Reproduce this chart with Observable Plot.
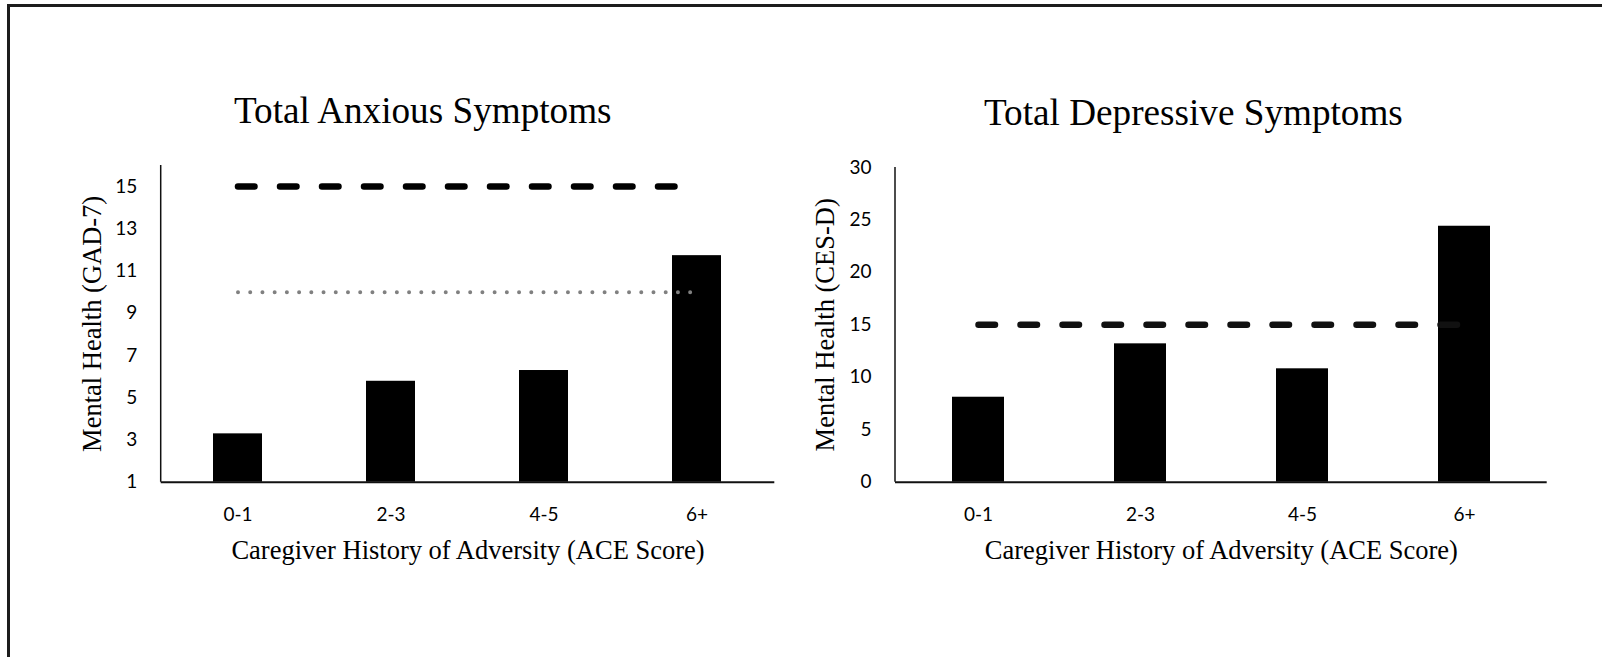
<!DOCTYPE html>
<html>
<head>
<meta charset="utf-8">
<script src="https://cdn.jsdelivr.net/npm/d3@7"></script>
<script src="https://cdn.jsdelivr.net/npm/@observablehq/plot@0.6"></script>
<style>
  body { margin: 0; background: #fff; }
  #page { position: relative; width: 1602px; height: 657px; overflow: hidden; background: #fff; }
  #frame { position: absolute; left: 7px; top: 4px; width: 1700px; height: 800px;
           border-left: 3px solid #1c1c1c; border-top: 3px solid #1c1c1c; }
  .title { position: absolute; font-family: "Liberation Serif", "Times New Roman", serif;
           font-size: 37.2px; line-height: 1; white-space: nowrap; color: #000; }
  .chart { position: absolute; top: 0; }
</style>
</head>
<body>
<div id="page">
  <div id="frame"></div>
  <div class="title" style="left:234px; top:92.2px">Total Anxious Symptoms</div>
  <div class="title" style="left:984px; top:93.9px">Total Depressive Symptoms</div>
  <div class="chart" id="c1" style="left:0px"></div>
  <div class="chart" id="c2" style="left:790px"></div>
</div>
<script>
// ---- data ----
const categories = ["0-1", "2-3", "4-5", "6+"];
const anxiousValues = [3.29, 5.78, 6.29, 11.73];
const depressiveValues = [8.1, 13.19, 10.81, 24.4];
const anxiousTicks = [1, 3, 5, 7, 9, 11, 13, 15];
const depressiveTicks = [0, 5, 10, 15, 20, 25, 30];
const anxiousSevereCutoff = 15;
const anxiousModerateCutoff = 10;
const depressiveCutoff = 15;
const xTitle = "Caregiver History of Adversity (ACE Score)";
const anxiousYTitle = "Mental Health (GAD-7)";
const depressiveYTitle = "Mental Health (CES-D)";

const serif = '"Liberation Serif", "Times New Roman", serif';

// vertical axis line along the left edge of the plot frame
function leftAxisLine(index, scales, values, dimensions) {
  const {marginLeft, marginTop, marginBottom, height} = dimensions;
  return d3.create("svg:line")
    .attr("x1", marginLeft).attr("x2", marginLeft)
    .attr("y1", marginTop).attr("y2", height - marginBottom)
    .attr("stroke", "#111").attr("stroke-width", 1.5)
    .node();
}

function chart(opts) {
  const rows = categories.map((c, i) => ({cat: c, value: opts.values[i]}));
  const marks = [
    Plot.barY(rows, {x: "cat", y1: opts.domain[0], y2: "value", fill: "#000"}),
  ];
  for (const c of opts.cutoffs) {
    const seg = [{cat: categories[0], v: c.value}, {cat: categories[categories.length - 1], v: c.value}];
    marks.push(Plot.lineY(seg, {x: "cat", y: "v", stroke: c.stroke, strokeWidth: c.width,
      strokeDasharray: c.dash, strokeLinecap: "round"}));
  }
  marks.push(
    Plot.ruleY([opts.domain[0]], {stroke: "#111", strokeWidth: 2}),
    leftAxisLine,
    Plot.axisY({ticks: opts.ticks, tickSize: 0, tickPadding: 24, label: null, tickFormat: d => String(d)}),
    Plot.axisX({tickSize: 0, tickPadding: 25, label: null}),
    Plot.text([opts.yTitle], {text: d => d, frameAnchor: "left", textAnchor: "middle", lineAnchor: "middle",
      rotate: -90, dx: opts.yTitleDx, fontFamily: serif, fontSize: 26.5, fill: "#000"}),
    Plot.text([xTitle], {text: d => d, frameAnchor: "bottom", textAnchor: "middle", lineAnchor: "middle",
      dy: 68.8, fontFamily: serif, fontSize: 26.5, fill: "#000"})
  );
  return Plot.plot({
    width: opts.width,
    height: 600,
    marginLeft: opts.marginLeft,
    marginRight: opts.marginRight,
    marginTop: opts.marginTop,
    marginBottom: 118.3,
    style: {fontFamily: "Lato, sans-serif", fontSize: "19px", background: "transparent", overflow: "visible", color: "#000"},
    x: {type: "band", domain: categories, paddingInner: 0.677, paddingOuter: 0.3385, axis: null},
    y: {domain: opts.domain, axis: null},
    marks
  });
}

const c1 = chart({
  width: 790, marginLeft: 160.7, marginRight: 15.7, marginTop: 165,
  domain: [1, 16], ticks: anxiousTicks, values: anxiousValues, yTitle: anxiousYTitle, yTitleDx: -68.7,
  cutoffs: [
    {value: anxiousSevereCutoff, stroke: "#000", width: 6.5, dash: "16.5 25.5"},
    {value: anxiousModerateCutoff, stroke: "#808080", width: 4, dash: "0 12.22"}
  ]
});
const c2 = chart({
  width: 812, marginLeft: 105, marginRight: 55.3, marginTop: 167,
  domain: [0, 30], ticks: depressiveTicks, values: depressiveValues, yTitle: depressiveYTitle, yTitleDx: -70,
  cutoffs: [
    {value: depressiveCutoff, stroke: "#111", width: 6.5, dash: "16.5 25.5"}
  ]
});

document.getElementById("c1").appendChild(c1);
document.getElementById("c2").appendChild(c2);
</script>
</body>
</html>
